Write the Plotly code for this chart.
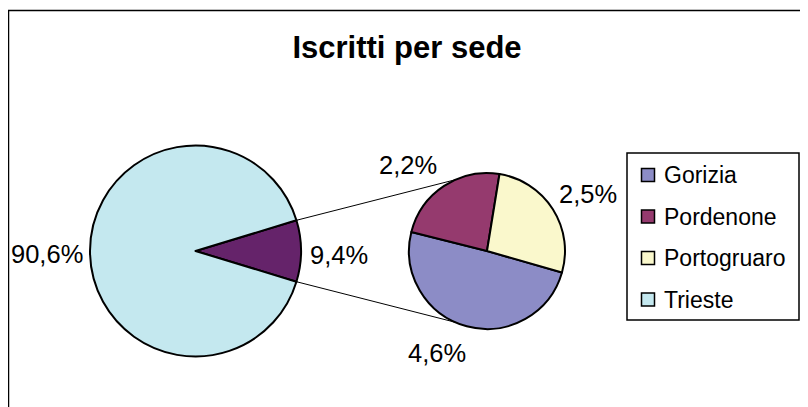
import math
import plotly.graph_objects as go

# ---- data ----
title_text = "Iscritti per sede"
main_labels = ["Altre sedi", "Trieste"]
main_values = [9.4, 90.6]
main_colors = ["#65236A", "#C4E8EF"]

sec_labels = ["Gorizia", "Pordenone", "Portogruaro"]
sec_values = [4.6, 2.2, 2.5]
sec_colors = ["#8C8CC6", "#953A6E", "#FAF8CC"]

legend_labels = ["Gorizia", "Pordenone", "Portogruaro", "Trieste"]
legend_colors = ["#8C8CC6", "#953A6E", "#FAF8CC", "#C4E8EF"]

W, H = 808, 407
OFF = 8  # page body margin in the browser
FONT = "Liberation Sans, Arial, sans-serif"


def px(x):
    return (x - OFF) / W


def py(y):
    return 1 - (y - OFF) / H


def fmt(v):
    return f"{v:.1f}".replace(".", ",") + "%"


# geometry (screen pixels)
mcx, mcy, mr = 195.5, 251.0, 105.5
scx, scy, sr = 487.0, 251.0, 78.0

fig = go.Figure()

# main pie: "other" slice centred at 3 o'clock
other_half = main_values[0] / sum(main_values) * 360 / 2
fig.add_trace(go.Pie(
    labels=main_labels, values=main_values, sort=False, direction="clockwise",
    rotation=90 - other_half,
    marker=dict(colors=main_colors, line=dict(color="black", width=2)),
    textinfo="none", hoverinfo="label+percent", showlegend=False,
    domain=dict(x=[px(mcx - mr), px(mcx + mr)], y=[py(mcy + mr), py(mcy - mr)]),
))

# secondary pie
fig.add_trace(go.Pie(
    labels=sec_labels, values=sec_values, sort=False, direction="clockwise",
    rotation=106,
    marker=dict(colors=sec_colors, line=dict(color="black", width=2)),
    textinfo="none", hoverinfo="label+value", showlegend=False,
    domain=dict(x=[px(scx - sr), px(scx + sr)], y=[py(scy + sr), py(scy - sr)]),
))

shapes = []
# outer chart border (right/bottom edges outside the picture)
shapes.append(dict(type="rect", xref="paper", yref="paper",
                   x0=px(8.5), x1=px(840), y0=py(440), y1=py(10.5),
                   line=dict(color="black", width=1.5), layer="below"))

# connector lines
a = math.radians(other_half)
conn_ang = math.radians(114)
for s in (1, -1):
    x0 = mcx + mr * math.cos(a)
    y0 = mcy - s * mr * math.sin(a)
    x1 = scx + sr * math.cos(conn_ang)
    y1 = scy - s * sr * math.sin(conn_ang)
    shapes.append(dict(type="line", xref="paper", yref="paper",
                       x0=px(x0), y0=py(y0), x1=px(x1), y1=py(y1),
                       line=dict(color="black", width=1)))

# legend box
shapes.append(dict(type="rect", xref="paper", yref="paper",
                   x0=px(627), x1=px(799), y0=py(320), y1=py(153),
                   line=dict(color="black", width=1.5), fillcolor="white"))

annotations = []
row_y = [175, 216.5, 258, 299.5]
for lab, col, yy in zip(legend_labels, legend_colors, row_y):
    shapes.append(dict(type="rect", xref="paper", yref="paper",
                       x0=px(641.5), x1=px(654.5), y0=py(yy + 6.5), y1=py(yy - 6.5),
                       line=dict(color="black", width=1.5), fillcolor=col))
    annotations.append(dict(text=lab, xref="paper", yref="paper",
                            x=px(662), y=py(yy), xanchor="left", yanchor="middle",
                            showarrow=False, font=dict(family=FONT, size=23, color="black")))

# percentage labels
label_pos = [
    (fmt(main_values[1]), 47, 254),
    (fmt(main_values[0]), 338.5, 255),
    (fmt(sec_values[1]), 408, 164.5),
    (fmt(sec_values[2]), 588, 194),
    (fmt(sec_values[0]), 436.5, 352.5),
]
for t, xx, yy in label_pos:
    annotations.append(dict(text=t, xref="paper", yref="paper",
                            x=px(xx), y=py(yy), xanchor="center", yanchor="middle",
                            showarrow=False, font=dict(family=FONT, size=25.5, color="black")))

fig.update_layout(
    width=W, height=H,
    margin=dict(l=0, r=0, t=0, b=0),
    paper_bgcolor="white", plot_bgcolor="white",
    title=dict(text="<b>" + title_text + "</b>", x=px(407), xanchor="center",
               y=py(47), yanchor="middle",
               font=dict(family=FONT, size=31, color="black")),
    shapes=shapes, annotations=annotations,
    showlegend=False,
)

fig.write_html("out.html")
